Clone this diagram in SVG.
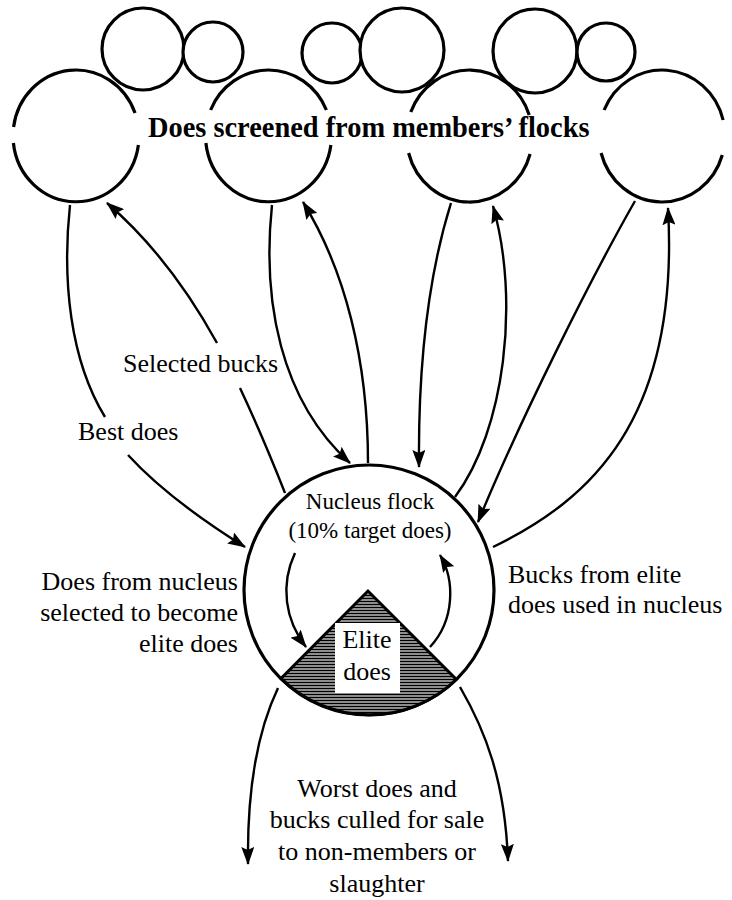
<svg xmlns="http://www.w3.org/2000/svg" width="732" height="900" viewBox="0 0 732 900">
<defs>
<style>
.ring{fill:none;stroke:#000;stroke-width:3.2}
.small{fill:#fff;stroke:#000;stroke-width:3.2}
.con{fill:none;stroke:#000;stroke-width:2.4}
.arr{marker-end:url(#ah)}
text{font-family:"Liberation Serif","Times New Roman",serif;fill:#000}
.lbl{font-size:26px}
.in{font-size:23px}
.el{font-size:26px}
.title{font-size:28.4px;font-weight:bold}
</style>
<marker id="ah" markerUnits="userSpaceOnUse" viewBox="0 0 18 13" markerWidth="18" markerHeight="13" refX="17" refY="6.5" orient="auto">
<path d="M0,0 L18,6.5 L0,13 L3,6.5 z" fill="#000"/>
</marker>
<pattern id="hatch" patternUnits="userSpaceOnUse" width="10" height="3">
<rect width="10" height="3" fill="#fff"/>
<line x1="0" y1="1.5" x2="10" y2="1.5" stroke="#000" stroke-width="1.9"/>
</pattern>
</defs>
<rect width="732" height="900" fill="#fff"/>

<g id="member-flocks">
<path class="ring" d="M13.6,127 A63,66 0 0 1 135.05,113 M13.4,143 A63,66 0 0 0 138.4,145"/>
<path class="ring" d="M210.6,110 A63,66 0 0 1 326.4,110 M205.9,143 A63,66 0 0 0 330.9,145"/>
<path class="ring" d="M410.8,112 A63,66 0 0 1 529.2,115 M408.6,153 A63,66 0 0 0 530.1,154"/>
<path class="ring" d="M604.1,110 A63,66 0 0 1 723.1,120 M601.1,153 A63,66 0 0 0 722.3,155"/>
<circle class="small" cx="143" cy="49" r="41"/>
<circle class="small" cx="213" cy="52" r="30"/>
<circle class="small" cx="332" cy="53" r="30"/>
<circle class="small" cx="402" cy="50" r="42"/>
<circle class="small" cx="535" cy="51" r="42"/>
<circle class="small" cx="606" cy="52" r="29"/>
<text class="title" x="148" y="137">Does screened from members’ flocks</text>
</g>

<g id="nucleus">
<circle class="ring" cx="369" cy="590" r="125"/>
<text class="in" x="370" y="509" text-anchor="middle">Nucleus flock</text>
<text class="in" x="370" y="538" text-anchor="middle">(10% target does)</text>
</g>

<g id="elite">
<path d="M368,591 L281,678.4 A125,125 0 0 0 456.4,679.4 Z" fill="url(#hatch)" stroke="#000" stroke-width="3" stroke-linejoin="miter"/>
<rect x="335" y="623" width="65" height="70" fill="#fff"/>
<text class="el" x="367" y="648" text-anchor="middle">Elite</text>
<text class="el" x="367" y="680" text-anchor="middle">does</text>
</g>

<g id="connectors">
<path class="con" d="M70,205 C62,280 70,360 105,417"/>
<path class="con arr" d="M128,455 C160,490 205,522 245,547"/>
<path class="con" d="M285,493 C270,455 255,420 240,388"/>
<path class="con arr" d="M217,343 C185,285 150,240 107,203"/>
<path class="con arr" d="M272,205 C262,300 280,400 350,463"/>
<path class="con arr" d="M368,463 C368,360 345,270 303,202"/>
<path class="con arr" d="M451,203 C430,270 418,360 419,467"/>
<path class="con arr" d="M455,497 C505,430 520,300 493,206"/>
<path class="con arr" d="M635,201 C590,280 520,420 478,522"/>
<path class="con arr" d="M493,547 C590,500 680,420 668,208"/>
<path class="con arr" d="M295,553 C280,585 285,620 306,647"/>
<path class="con arr" d="M430,647 C455,620 455,580 440,555"/>
<path class="con arr" d="M278,688 C258,730 247,790 248,864"/>
<path class="con arr" d="M460,687 C485,730 505,780 508,861"/>
</g>

<g id="labels">
<text class="lbl" x="123" y="372">Selected bucks</text>
<text class="lbl" x="78" y="440">Best does</text>
<text class="lbl" x="238" y="590" text-anchor="end">Does from nucleus</text>
<text class="lbl" x="238" y="621" text-anchor="end">selected to become</text>
<text class="lbl" x="238" y="652" text-anchor="end">elite does</text>
<text class="lbl" x="508" y="583">Bucks from elite</text>
<text class="lbl" x="508" y="613">does used in nucleus</text>
<text class="lbl" x="377" y="797" text-anchor="middle">Worst does and</text>
<text class="lbl" x="377" y="828" text-anchor="middle">bucks culled for sale</text>
<text class="lbl" x="377" y="860" text-anchor="middle">to non-members or</text>
<text class="lbl" x="377" y="892" text-anchor="middle">slaughter</text>
</g>
</svg>
